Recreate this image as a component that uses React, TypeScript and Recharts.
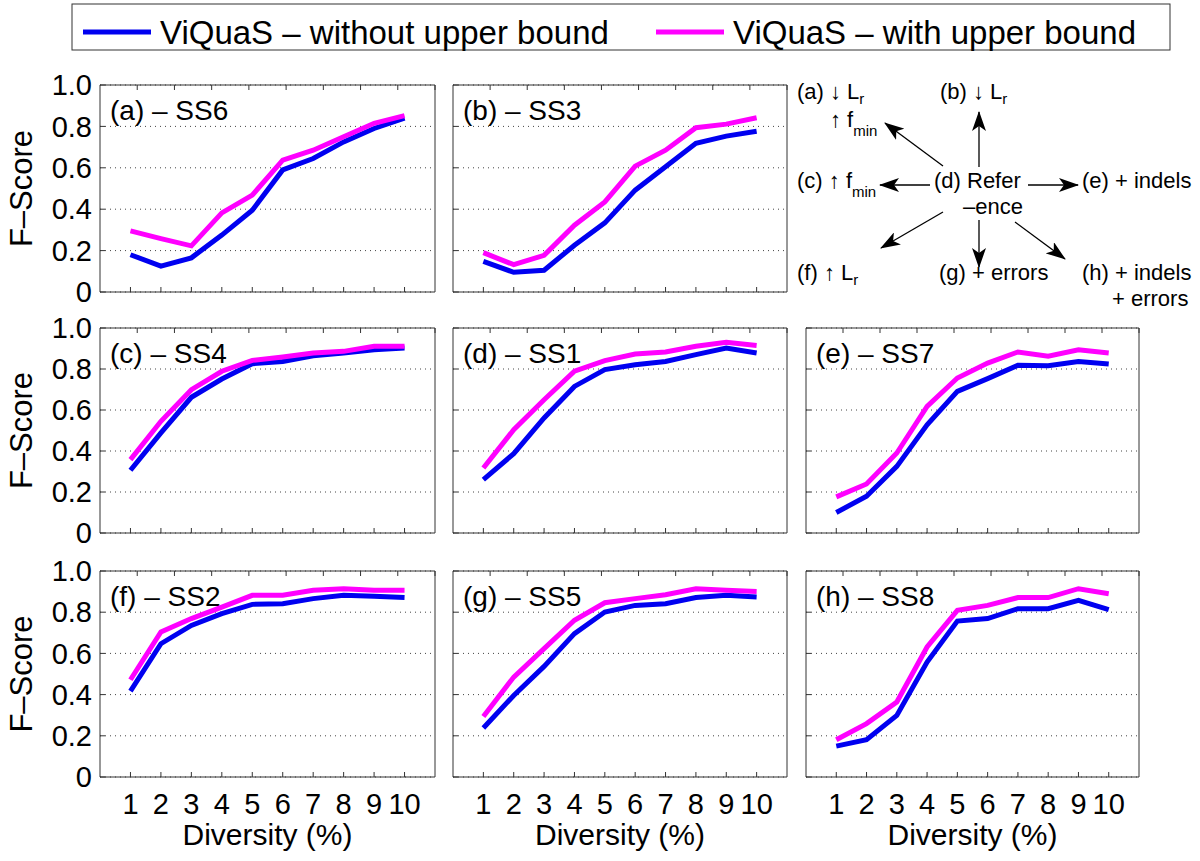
import React from 'react';
import { LineChart, Line, XAxis, YAxis, CartesianGrid } from 'recharts';

const FONT = '"Liberation Sans", Arial, Helvetica, sans-serif';
const BLUE = '#0000f0';
const MAGENTA = '#ff00ff';
const AXIS = '#333';

// x positions and y ticks
const diversity = [1, 2, 3, 4, 5, 6, 7, 8, 9, 10];
const yTicks = [0, 0.2, 0.4, 0.6, 0.8, 1];

// F-Score, without / with upper bound
const ss6Without = [0.18, 0.125, 0.165, 0.275, 0.395, 0.59, 0.645, 0.725, 0.79, 0.84];
const ss6With = [0.295, 0.258, 0.223, 0.382, 0.468, 0.637, 0.685, 0.75, 0.815, 0.852];
const ss3Without = [0.148, 0.095, 0.105, 0.226, 0.334, 0.492, 0.605, 0.718, 0.753, 0.777];
const ss3With = [0.19, 0.132, 0.177, 0.323, 0.435, 0.608, 0.685, 0.794, 0.811, 0.842];
const ss4Without = [0.306, 0.488, 0.662, 0.751, 0.826, 0.837, 0.865, 0.878, 0.894, 0.902];
const ss4With = [0.358, 0.545, 0.699, 0.789, 0.842, 0.859, 0.878, 0.886, 0.911, 0.911];
const ss1Without = [0.26, 0.387, 0.561, 0.715, 0.797, 0.821, 0.837, 0.87, 0.902, 0.878];
const ss1With = [0.317, 0.504, 0.65, 0.789, 0.841, 0.873, 0.883, 0.911, 0.93, 0.915];
const ss7Without = [0.1, 0.179, 0.325, 0.528, 0.691, 0.753, 0.818, 0.816, 0.837, 0.824];
const ss7With = [0.176, 0.239, 0.39, 0.618, 0.756, 0.829, 0.883, 0.862, 0.894, 0.878];
const ss2Without = [0.417, 0.647, 0.736, 0.793, 0.838, 0.841, 0.866, 0.882, 0.877, 0.871];
const ss2With = [0.472, 0.704, 0.769, 0.825, 0.882, 0.882, 0.906, 0.914, 0.906, 0.906];
const ss5Without = [0.238, 0.396, 0.537, 0.696, 0.801, 0.833, 0.841, 0.871, 0.882, 0.874];
const ss5With = [0.294, 0.485, 0.623, 0.761, 0.846, 0.866, 0.885, 0.914, 0.906, 0.901];
const ss8Without = [0.15, 0.181, 0.299, 0.558, 0.757, 0.769, 0.817, 0.817, 0.858, 0.812];
const ss8With = [0.181, 0.259, 0.364, 0.631, 0.809, 0.833, 0.871, 0.871, 0.914, 0.89];

const legendLabels = ['ViQuaS – without upper bound', 'ViQuaS – with upper bound'];

interface PanelDef {
  title: string;
  without: number[];
  withUB: number[];
  x: number;
  y: number;
  w: number;
  h: number;
  showY: boolean;
  showX: boolean;
}

const panels: PanelDef[] = [
  { title: '(a) – SS6', without: ss6Without, withUB: ss6With, x: 100, y: 85, w: 335, h: 207, showY: true, showX: false },
  { title: '(b) – SS3', without: ss3Without, withUB: ss3With, x: 453, y: 85, w: 334, h: 207, showY: false, showX: false },
  { title: '(c) – SS4', without: ss4Without, withUB: ss4With, x: 100, y: 328, w: 335, h: 205, showY: true, showX: false },
  { title: '(d) – SS1', without: ss1Without, withUB: ss1With, x: 453, y: 328, w: 334, h: 205, showY: false, showX: false },
  { title: '(e) – SS7', without: ss7Without, withUB: ss7With, x: 806, y: 328, w: 333, h: 205, showY: false, showX: false },
  { title: '(f) – SS2', without: ss2Without, withUB: ss2With, x: 100, y: 571, w: 335, h: 206, showY: true, showX: true },
  { title: '(g) – SS5', without: ss5Without, withUB: ss5With, x: 453, y: 571, w: 334, h: 206, showY: false, showX: true },
  { title: '(h) – SS8', without: ss8Without, withUB: ss8With, x: 806, y: 571, w: 333, h: 206, showY: false, showX: true },
];

const TOP = 20; // room above each box for the 1.0 label
const blank = () => '';
const fmtY = (v: number) => (v === 0 ? '0' : v.toFixed(1));

function Panel({ p }: { p: PanelDef }) {
  const W = 100 + p.w + 10;
  const H = TOP + p.h + 80;
  const data = diversity.map((x, i) => ({ x, without: p.without[i], withUB: p.withUB[i] }));
  const tickStyle = { fontSize: 29, fill: '#000', fontFamily: FONT };
  const midY = TOP + p.h / 2;
  return (
    <div style={{ position: 'absolute', left: p.x - 100, top: p.y - TOP }}>
      <LineChart width={W} height={H} data={data} margin={{ top: TOP - 1, right: 9, left: 0, bottom: 0 }}>
        <CartesianGrid vertical={false} stroke="#444" strokeDasharray="1 4" />
        <XAxis
          dataKey="x"
          type="number"
          domain={[0, 11]}
          ticks={diversity}
          interval={0}
          height={80}
          tickSize={-5}
          tickMargin={21}
          axisLine={{ stroke: AXIS }}
          tickLine={{ stroke: AXIS }}
          tick={tickStyle}
          tickFormatter={p.showX ? undefined : blank}
          label={
            p.showX
              ? { value: 'Diversity (%)', position: 'insideBottom', offset: 12, style: { fontSize: 30, fill: '#000', fontFamily: FONT } }
              : undefined
          }
        />
        <XAxis
          xAxisId="top"
          orientation="top"
          type="number"
          domain={[0, 11]}
          ticks={diversity}
          interval={0}
          height={1}
          tickSize={-5}
          axisLine={{ stroke: AXIS }}
          tickLine={{ stroke: AXIS }}
          tickFormatter={blank}
        />
        <YAxis
          domain={[0, 1]}
          ticks={yTicks}
          interval={0}
          width={100}
          tickSize={-5}
          tickMargin={13}
          axisLine={{ stroke: AXIS }}
          tickLine={{ stroke: AXIS }}
          tick={tickStyle}
          tickFormatter={p.showY ? fmtY : blank}
        />
        <YAxis
          yAxisId="r"
          orientation="right"
          domain={[0, 1]}
          ticks={yTicks}
          interval={0}
          width={1}
          tickSize={-5}
          axisLine={{ stroke: AXIS }}
          tickLine={{ stroke: AXIS }}
          tickFormatter={blank}
        />
        <Line type="linear" dataKey="without" stroke={BLUE} strokeWidth={5} dot={false} isAnimationActive={false} />
        <Line type="linear" dataKey="withUB" stroke={MAGENTA} strokeWidth={5} dot={false} isAnimationActive={false} />
        <text x={110} y={TOP + 35} fontSize={28} fontFamily={FONT} fill="#000">
          {p.title}
        </text>
        {p.showY && (
          <text
            x={21}
            y={midY}
            transform={`rotate(-90 21 ${midY})`}
            textAnchor="middle"
            dominantBaseline="central"
            fontSize={31}
            fontFamily={FONT}
            fill="#000"
          >
            F–Score
          </text>
        )}
      </LineChart>
    </div>
  );
}

function Legend() {
  return (
    <svg style={{ position: 'absolute', left: 0, top: 0 }} width={1200} height={60}>
      <rect x={72} y={4} width={1098} height={46} fill="#fff" stroke={AXIS} strokeWidth={1} />
      <line x1={83} x2={151} y1={32} y2={32} stroke={BLUE} strokeWidth={5} />
      <text x={160} y={44} fontSize={33} fontFamily={FONT} fill="#000">
        {legendLabels[0]}
      </text>
      <line x1={656} x2={724} y1={32} y2={32} stroke={MAGENTA} strokeWidth={5} />
      <text x={733} y={44} fontSize={33} fontFamily={FONT} fill="#000">
        {legendLabels[1]}
      </text>
    </svg>
  );
}

// sketch of how the scenarios relate, sits in the empty top-right cell
function Diagram() {
  const t = { fontSize: 22, fontFamily: FONT, fill: '#000' };
  const sub = { fontSize: 15 };
  const arrows = [
    [979, 167, 979, 112],
    [943, 166, 885, 123],
    [930, 185, 880, 185],
    [1028, 185, 1078, 185],
    [943, 212, 881, 248],
    [979, 220, 979, 267],
    [1015, 222, 1065, 259],
  ];
  return (
    <svg style={{ position: 'absolute', left: 0, top: 0 }} width={1200} height={340}>
      <defs>
        <marker id="head" viewBox="0 0 20 14" refX={19} refY={7} markerWidth={20} markerHeight={14} markerUnits="userSpaceOnUse" orient="auto">
          <path d="M0,0 L20,7 L0,14 L5,7 Z" fill="#000" />
        </marker>
      </defs>
      {arrows.map(([x1, y1, x2, y2], i) => (
        <line key={i} x1={x1} y1={y1} x2={x2} y2={y2} stroke="#000" strokeWidth={1.3} markerEnd="url(#head)" />
      ))}
      <text x={797} y={99} {...t}>
        (a) ↓ L<tspan {...sub} dy={5}>r</tspan>
      </text>
      <text x={830} y={127} {...t}>
        ↑ f<tspan {...sub} dy={9}>min</tspan>
      </text>
      <text x={940} y={99} {...t}>
        (b) ↓ L<tspan {...sub} dy={5}>r</tspan>
      </text>
      <text x={797} y={188} {...t}>
        (c) ↑ f<tspan {...sub} dy={9}>min</tspan>
      </text>
      <text x={934} y={188} {...t}>(d) Refer</text>
      <text x={963} y={214} {...t}>–ence</text>
      <text x={1082} y={188} {...t}>(e) + indels</text>
      <text x={797} y={280} {...t}>
        (f) ↑ L<tspan {...sub} dy={5}>r</tspan>
      </text>
      <text x={939} y={280} {...t}>(g) + errors</text>
      <text x={1082} y={280} {...t}>(h) + indels</text>
      <text x={1112} y={306} {...t}>+ errors</text>
    </svg>
  );
}

export default function App() {
  return (
    <div
      style={{
        position: 'absolute',
        left: 0,
        top: 0,
        width: 1200,
        height: 861,
        background: '#fff',
        fontFamily: FONT,
        overflow: 'hidden',
      }}
    >
      <Legend />
      <Diagram />
      {panels.map((p) => (
        <Panel key={p.title} p={p} />
      ))}
    </div>
  );
}
